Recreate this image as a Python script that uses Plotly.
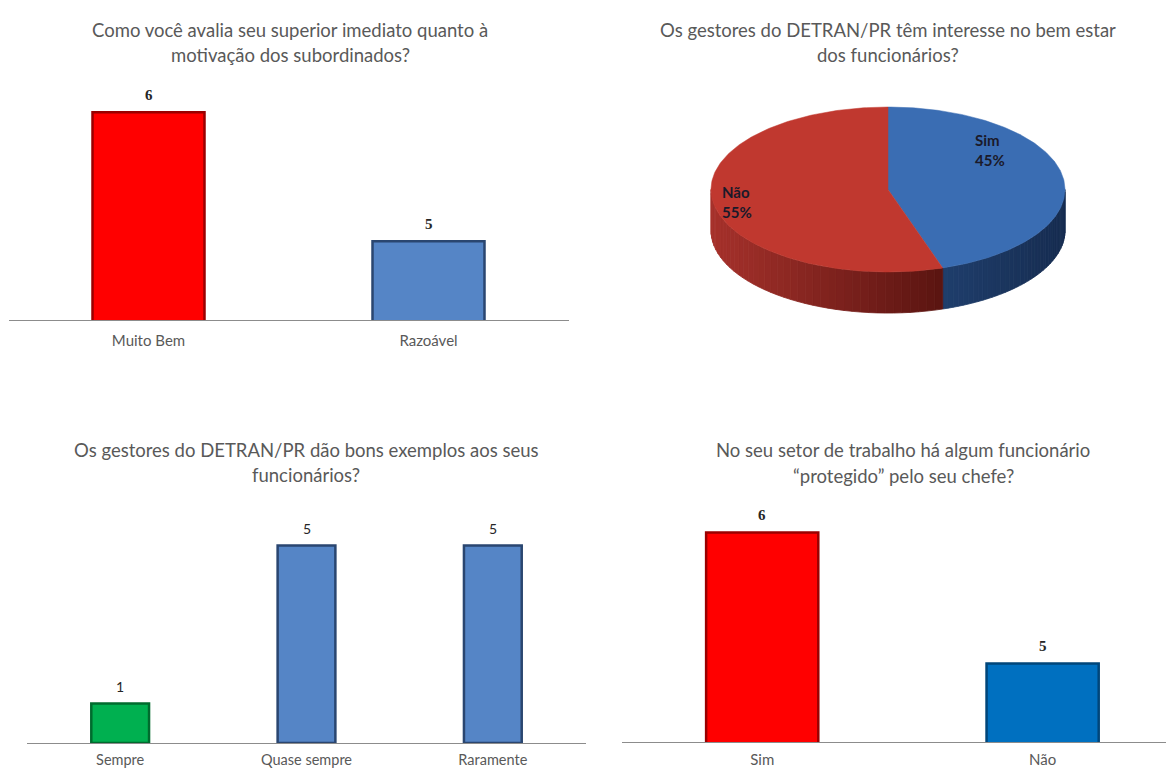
import numpy as np
import plotly.graph_objects as go

W, H = 1166, 769

# ---------------- data ----------------
c1_title = ["Como você avalia seu superior imediato quanto à", "motivação dos subordinados?"]
c1_cats = ["Muito Bem", "Razoável"]
c1_vals = [6, 5]

c2_title = ["Os gestores do DETRAN/PR têm interesse no bem estar", "dos funcionários?"]
c2_labels = ["Sim", "Não"]
c2_vals = [45, 55]

c3_title = ["Os gestores do DETRAN/PR dão bons exemplos aos seus", "funcionários?"]
c3_cats = ["Sempre", "Quase sempre", "Raramente"]
c3_vals = [1, 5, 5]

c4_title = ["No seu setor de trabalho há algum funcionário", "“protegido” pelo seu chefe?"]
c4_cats = ["Sim", "Não"]
c4_vals = [6, 5]

# ---------------- style ----------------
TXT = "#595959"
SANS = "Lato, 'Open Sans', sans-serif"
SERIF = "'Liberation Serif', 'DejaVu Serif', serif"


def px(x):
    return x / W


def py(y):
    return 1 - y / H


fig = go.Figure()
annotations = []

bar_specs = [
    (c1_cats, c1_vals, "x", "y", ["#FF0000", "#5585C6"], ["#9A0000", "#2A4670"], 0.4,
     dict(family=SERIF, size=15, color="#262626", weight="bold")),
    (c3_cats, c3_vals, "x3", "y3", ["#00B050", "#5585C6", "#5585C6"], ["#006B2E", "#2A4670", "#2A4670"], 0.31,
     dict(family=SANS, size=14, color="#262626")),
    (c4_cats, c4_vals, "x4", "y4", ["#FF0000", "#0070C0"], ["#9A0000", "#00467A"], 0.4,
     dict(family=SERIF, size=15, color="#262626", weight="bold")),
]
for cats, vals, xa, ya, cols, lcols, w, tf in bar_specs:
    fig.add_trace(go.Bar(
        x=cats, y=vals, xaxis=xa, yaxis=ya, width=w,
        marker=dict(color=cols, line=dict(color=lcols, width=2.5)),
        showlegend=False, hoverinfo="x+y"))
    for c, v in zip(cats, vals):
        annotations.append(dict(x=c, y=v, xref=xa, yref=ya, text=str(v), showarrow=False,
                                yanchor="bottom", yshift=7, font=tf))

# chart 2 : 3D-looking pie built from the values
tilt = 0.466
depth = 0.232
total = float(sum(c2_vals))
top_cols = ["#3A6DB3", "#C0382F"]
side_left = ["#1F3E6C", "#A6312B"]
side_right = ["#162C50", "#5A1511"]


def mix(c1, c2, f):
    a = [int(c1[i:i + 2], 16) for i in (1, 3, 5)]
    b = [int(c2[i:i + 2], 16) for i in (1, 3, 5)]
    return "rgb(%d,%d,%d)" % tuple(round(a[k] + (b[k] - a[k]) * f) for k in range(3))


spans = []
start = 0.0
for v in c2_vals:
    frac = v / total * 2 * np.pi
    spans.append((start, start + frac))
    start += frac

# side faces (front half: t in [pi/2, 3pi/2])
for i, (t0, t1) in enumerate(spans):
    lo, hi = max(t0, np.pi / 2), min(t1, 3 * np.pi / 2)
    if hi <= lo:
        continue
    n = 40
    edges = np.linspace(lo, hi, n + 1)
    xs_all = np.sin(edges)
    xmin, xmax = xs_all.min(), xs_all.max()
    for k in range(n):
        tt = np.linspace(edges[k], edges[k + 1], 6)
        xt = np.sin(tt)
        yt = tilt * np.cos(tt)
        xx = np.concatenate([xt, xt[::-1], xt[:1]])
        yy = np.concatenate([yt, yt[::-1] - depth, yt[:1]])
        f = (np.sin(tt).mean() - xmin) / (xmax - xmin + 1e-9)
        col = mix(side_left[i], side_right[i], f)
        fig.add_trace(go.Scatter(x=xx, y=yy, xaxis="x2", yaxis="y2", mode="lines",
                                 fill="toself", fillcolor=col, line=dict(color=col, width=0.8),
                                 hoverinfo="skip", showlegend=False))

# top faces
for i, (t0, t1) in enumerate(spans):
    tt = np.linspace(t0, t1, 200)
    xx = np.concatenate([[0], np.sin(tt), [0]])
    yy = np.concatenate([[0], tilt * np.cos(tt), [0]])
    fig.add_trace(go.Scatter(x=xx, y=yy, xaxis="x2", yaxis="y2", mode="lines",
                             fill="toself", fillcolor=top_cols[i], line=dict(color=top_cols[i], width=0.5),
                             name=c2_labels[i], hoverinfo="name", showlegend=False))

# pie labels
lab_r = [0.65, 0.85]
lab_shift = [(-12, 31), (-2, -2)]
for i, (t0, t1) in enumerate(spans):
    m = (t0 + t1) / 2
    annotations.append(dict(
        x=lab_r[i] * np.sin(m), y=lab_r[i] * tilt * np.cos(m), xref="x2", yref="y2",
        text="%s<br>%d%%" % (c2_labels[i], round(c2_vals[i] / total * 100)),
        showarrow=False, xshift=lab_shift[i][0], yshift=lab_shift[i][1],
        font=dict(family=SANS, size=15, color="#1A1A2A", weight="bold"), align="left"))

# titles
title_pos = [
    (c1_title, 290, [30, 55]),
    (c2_title, 888, [30, 55]),
    (c3_title, 306, [450, 475]),
    (c4_title, 903, [450, 476]),
]
for lines, cx, ys in title_pos:
    for line, yy in zip(lines, ys):
        annotations.append(dict(x=px(cx), y=py(yy), xref="paper", yref="paper", text=line,
                                showarrow=False, xanchor="center", yanchor="middle",
                                font=dict(family=SANS, size=18.5, color=TXT)))

# pie axis geometry (unit radius = 177 px)
R = 177.0
pcx, pcy = 888.0, 189.5
pl, pr, pt, pb = 620.0, 1160.0, 90.0, 340.0


def xax(size, ticklen):
    return dict(showgrid=False, zeroline=False, showline=True, linecolor="#8C8C8C", linewidth=1,
                ticks="outside", ticklen=ticklen, tickcolor="rgba(0,0,0,0)",
                tickfont=dict(family=SANS, size=size, color=TXT), fixedrange=True)


yaxis_common = dict(visible=False, showgrid=False, zeroline=False, fixedrange=True)

fig.update_layout(
    width=W, height=H, margin=dict(l=0, r=0, t=0, b=0),
    paper_bgcolor="white", plot_bgcolor="white",
    xaxis=dict(domain=[px(8.5), px(568.5)], anchor="y", **xax(15, 7)),
    yaxis=dict(domain=[py(320), py(90)], anchor="x", range=[4.39, 4.39 + 230 / 129.0], **yaxis_common),
    xaxis3=dict(domain=[px(27), px(586)], anchor="y3", **xax(14.5, 4)),
    yaxis3=dict(domain=[py(743), py(500)], anchor="x3", range=[0, 243 / 39.5], **yaxis_common),
    xaxis4=dict(domain=[px(622), 1.0], anchor="y4", range=[-0.5, 1.44], **xax(15, 4)),
    yaxis4=dict(domain=[py(742), py(500)], anchor="x4", range=[4.40, 4.40 + 242 / 131.0], **yaxis_common),
    xaxis2=dict(domain=[px(pl), px(pr)], anchor="y2", range=[(pl - pcx) / R, (pr - pcx) / R],
                visible=False, fixedrange=True),
    yaxis2=dict(domain=[py(pb), py(pt)], anchor="x2", range=[-(pb - pcy) / R, (pcy - pt) / R],
                visible=False, fixedrange=True),
    annotations=annotations,
)

fig.write_html("out.html", config={"displayModeBar": False},
               post_script="document.body.style.margin='0px';")
